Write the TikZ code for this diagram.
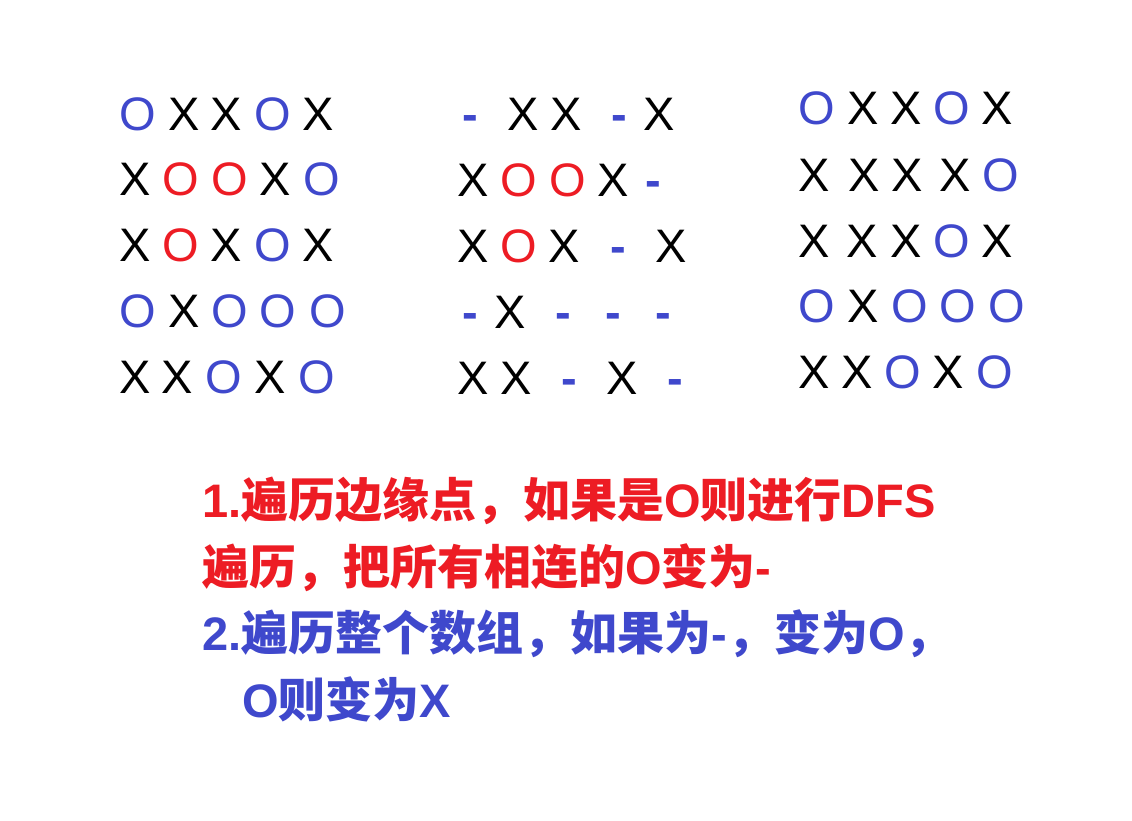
\documentclass[tikz,border=0pt]{standalone}
\usepackage{fontspec}
\setmainfont{Liberation Sans}
\newfontfamily\cjk{Noto Sans CJK SC}
\usetikzlibrary{positioning}

\definecolor{redO}{RGB}{237,28,36}
\definecolor{blueO}{RGB}{63,72,204}

\begin{document}
\begin{tikzpicture}[
    x=1pt, y=-1pt,
    cell/.style={font=\fontsize{47}{56}\selectfont, inner sep=0pt, anchor=base},
    note/.style={font=\fontsize{47}{67}\selectfont\bfseries, inner sep=0pt, anchor=base west}
]
\useasboundingbox[fill=white] (0,0) rectangle (1132,820);

% original board
\foreach \x/\y/\c/\t [count=\i] in {
    138/130/blueO/O, 184/130/black/X, 226/130/black/X, 273/130/blueO/O, 318/130/black/X,
    135/195/black/X, 181/195/redO/O, 230/195/redO/O, 275/195/black/X, 322/195/blueO/O,
    135/261/black/X, 181/261/redO/O, 226/261/black/X, 273/261/blueO/O, 318/261/black/X,
    138/327/blueO/O, 184/327/black/X, 230/327/blueO/O, 278/327/blueO/O, 328/327/blueO/O,
    135/393/black/X, 177/393/black/X, 224/393/blueO/O, 270/393/black/X, 317/393/blueO/O}
    \node[cell, text=\c] (a\i) at (\x,\y) {\t};

% after DFS from the border
\foreach \x/\y/\c/\t [count=\i] in {
    470/130/blueO/{\bfseries -}, 523/130/black/X, 566/130/black/X, 619/130/blueO/{\bfseries -}, 659/130/black/X,
    473/196/black/X, 519/196/redO/O, 568/196/redO/O, 613/196/black/X, 653/196/blueO/{\bfseries -},
    473/262/black/X, 519/262/redO/O, 564/262/black/X, 618/262/blueO/{\bfseries -}, 671/262/black/X,
    470/328/blueO/{\bfseries -}, 510/328/black/X, 563/328/blueO/{\bfseries -}, 613/328/blueO/{\bfseries -}, 663/328/blueO/{\bfseries -},
    473/394/black/X, 516/394/black/X, 569/394/blueO/{\bfseries -}, 622/394/black/X, 675/394/blueO/{\bfseries -}}
    \node[cell, text=\c] (b\i) at (\x,\y) {\t};

% result
\foreach \x/\y/\c/\t [count=\i] in {
    817/124/blueO/O, 863/124/black/X, 906/124/black/X, 952/124/blueO/O, 997/124/black/X,
    814/191/black/X, 864/191/black/X, 907/191/black/X, 955/191/black/X, 1001/191/blueO/O,
    814/257/black/X, 862/257/black/X, 906/257/black/X, 952/257/blueO/O, 997/257/black/X,
    817/322/blueO/O, 863/322/black/X, 910/322/blueO/O, 958/322/blueO/O, 1007/322/blueO/O,
    814/388/black/X, 857/388/black/X, 903/388/blueO/O, 948/388/black/X, 995/388/blueO/O}
    \node[cell, text=\c] (c\i) at (\x,\y) {\t};

\node[note, text=redO] (step1a) at (202,517) {1.{\cjk 遍历边缘点，如果是}O{\cjk 则进行}DFS};
\node[note, text=redO] (step1b) at (202,584) {{\cjk 遍历，把所有相连的}O{\cjk 变为}-};
\node[note, text=blueO] (step2a) at (202,650) {2.{\cjk 遍历整个数组，如果为}-{\cjk ，变为}O{\cjk ，}};
\node[note, text=blueO] (step2b) at (242,717) {O{\cjk 则变为}X};
\end{tikzpicture}
\end{document}
